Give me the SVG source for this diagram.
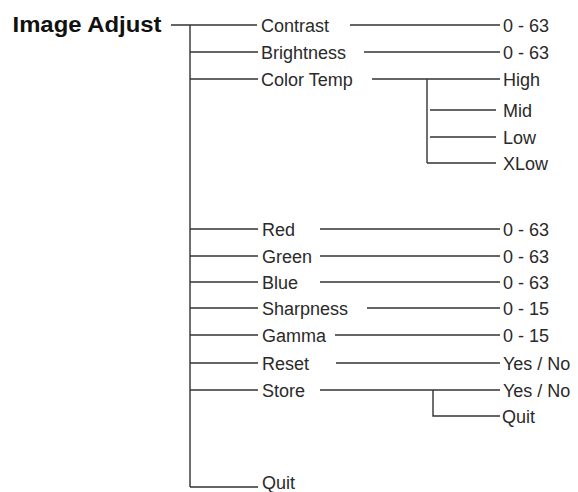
<svg xmlns="http://www.w3.org/2000/svg" width="578" height="492" viewBox="0 0 578 492">
<style>
.ln{stroke:#333;stroke-width:1.4;fill:none}
.t{font-family:"Liberation Sans",Arial,sans-serif;font-size:18px;fill:#2a2a2a}
.h{font-family:"Liberation Sans",Arial,sans-serif;font-size:22px;font-weight:bold;fill:#111}
</style>
<rect width="578" height="492" fill="#fff"/>
<g id="connectors">
<path class="ln" d="M171 25H257M190 25V487"/>
<path class="ln" d="M190 52H258M190 79H258M190 229H258M190 256H258M190 282H258M190 308H258M190 335H258M190 363H258M190 390H258M190 487H258"/>
<path class="ln" d="M350 25H500M364 52H500M372 79H500M320 229H500M320 256H500M320 282H500M367 308H500M335 335H500M336 363H500M320 390H500"/>
<path class="ln" d="M427 79V163M430 110H496M430 137H496M427 163H496"/>
<path class="ln" d="M433 390V416H500"/>
</g>
<g id="image-adjust"><text class="h" x="12.5" y="31.5" textLength="149" lengthAdjust="spacingAndGlyphs">Image Adjust</text></g>
<g id="contrast"><text class="t" x="261" y="31.5">Contrast</text></g>
<g id="contrast-val"><text class="t" x="503" y="31.5">0 - 63</text></g>
<g id="brightness"><text class="t" x="261" y="58.5">Brightness</text></g>
<g id="brightness-val"><text class="t" x="503" y="58.5">0 - 63</text></g>
<g id="colortemp"><text class="t" x="261" y="85.5">Color Temp</text></g>
<g id="high"><text class="t" x="503" y="85.5">High</text></g>
<g id="mid"><text class="t" x="503" y="116.5">Mid</text></g>
<g id="low"><text class="t" x="503" y="143.5">Low</text></g>
<g id="xlow"><text class="t" x="503" y="169.5">XLow</text></g>
<g id="red"><text class="t" x="262" y="235.5">Red</text></g>
<g id="red-val"><text class="t" x="503" y="235.5">0 - 63</text></g>
<g id="green"><text class="t" x="262" y="262.5">Green</text></g>
<g id="green-val"><text class="t" x="503" y="262.5">0 - 63</text></g>
<g id="blue"><text class="t" x="262" y="288.5">Blue</text></g>
<g id="blue-val"><text class="t" x="503" y="288.5">0 - 63</text></g>
<g id="sharpness"><text class="t" x="262" y="314.5">Sharpness</text></g>
<g id="sharpness-val"><text class="t" x="503" y="314.5">0 - 15</text></g>
<g id="gamma"><text class="t" x="262" y="341.5">Gamma</text></g>
<g id="gamma-val"><text class="t" x="503" y="341.5">0 - 15</text></g>
<g id="reset"><text class="t" x="262" y="369.5">Reset</text></g>
<g id="reset-val"><text class="t" x="503" y="369.5">Yes / No</text></g>
<g id="store"><text class="t" x="262" y="396.5">Store</text></g>
<g id="store-val"><text class="t" x="503" y="396.5">Yes / No</text></g>
<g id="store-quit"><text class="t" x="502" y="422.5">Quit</text></g>
<g id="quit"><text class="t" x="262" y="489">Quit</text></g>
</svg>
